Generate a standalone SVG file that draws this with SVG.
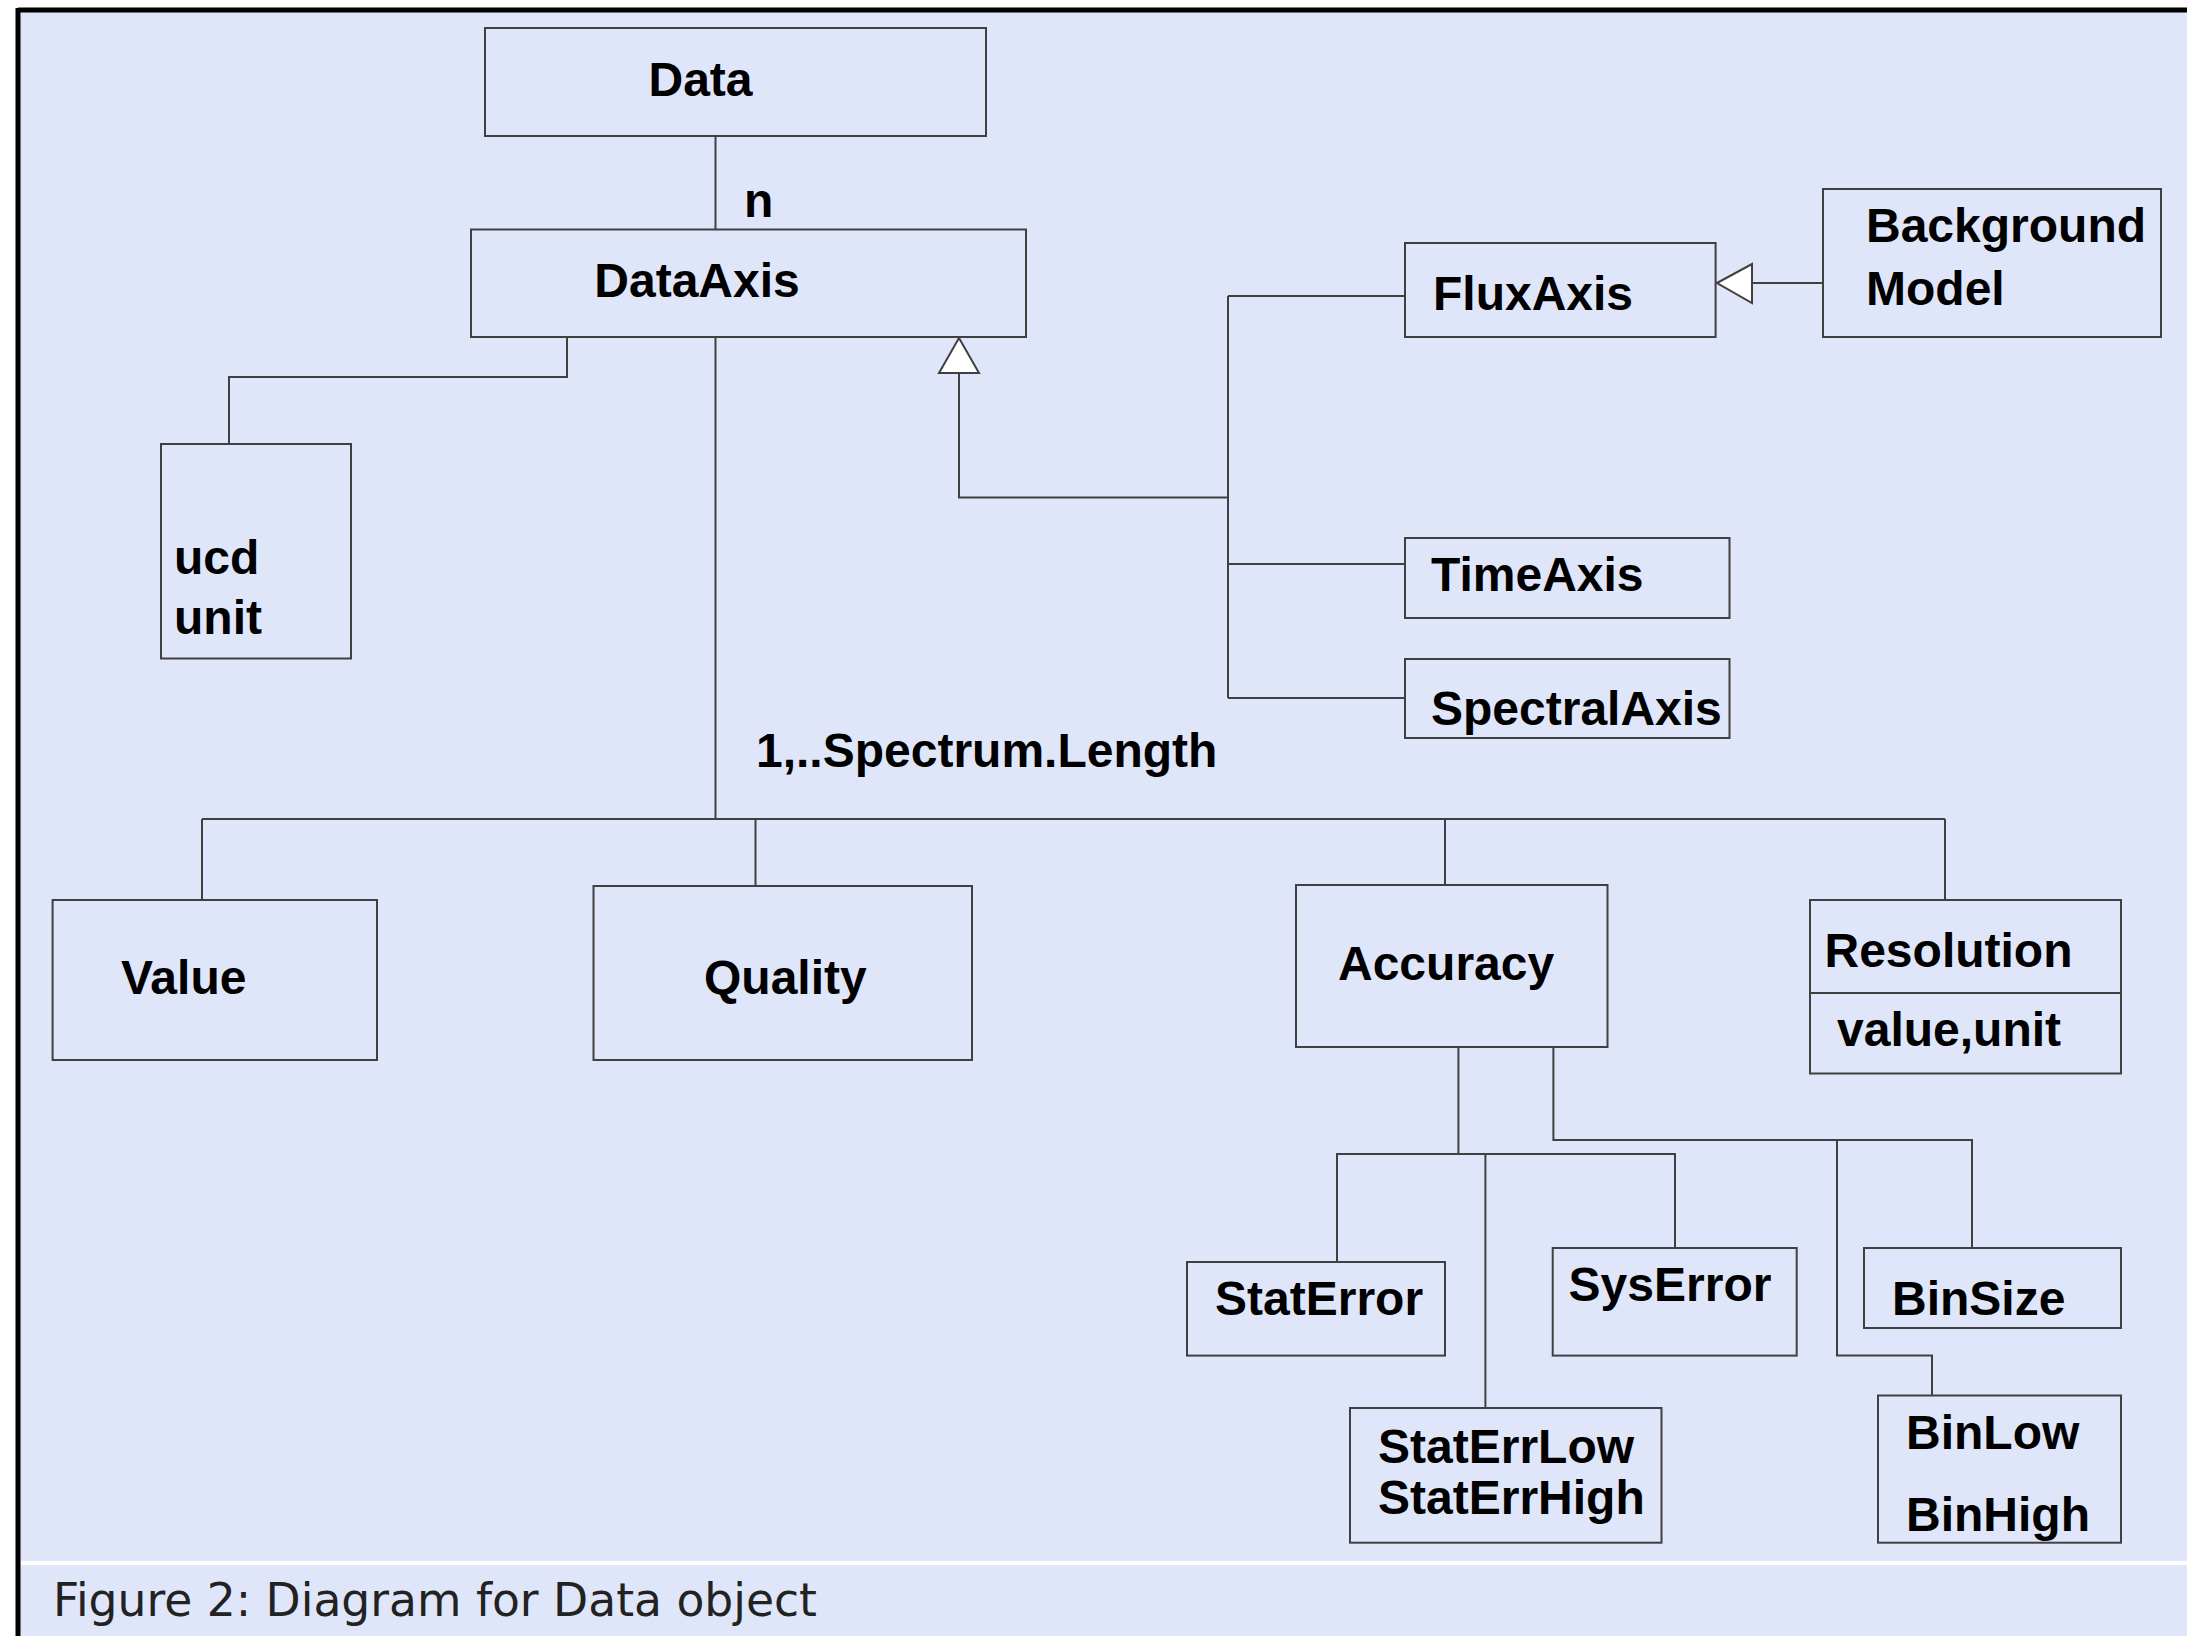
<svg xmlns="http://www.w3.org/2000/svg" width="2187" height="1636" viewBox="0 0 2187 1636">
<style>
.box{fill:none;stroke:#404040;stroke-width:2}
.ln{fill:none;stroke:#404040;stroke-width:2}
.t{font-family:"Liberation Sans",Arial,sans-serif;font-weight:bold;font-size:48px;fill:#000}
.cap{font-family:"DejaVu Sans","Liberation Sans",sans-serif;font-size:47px;fill:#222}
.tri{fill:#fff;stroke:#404040;stroke-width:2}
</style>
<rect x="0" y="0" width="2187" height="1636" fill="#fff"/>
<rect x="18" y="10" width="2169" height="1626" fill="#E0E6FA"/>
<line x1="18" y1="10" x2="2187" y2="10" stroke="#000" stroke-width="5"/>
<line x1="18" y1="8" x2="18" y2="1636" stroke="#000" stroke-width="5"/>
<line x1="21" y1="1563" x2="2187" y2="1563" stroke="#fff" stroke-width="4"/>
<text class="cap" x="53" y="1616" textLength="764" lengthAdjust="spacingAndGlyphs">Figure 2: Diagram for Data object</text>

<g id="connectors">
<line class="ln" x1="715.5" y1="136" x2="715.5" y2="229.5"/>
<polyline class="ln" points="567,337 567,377 229,377 229,444"/>
<line class="ln" x1="715.5" y1="337" x2="715.5" y2="819"/>
<polyline class="ln" points="959,373 959,497.5 1228,497.5"/>
<line class="ln" x1="1228" y1="296" x2="1228" y2="698"/>
<line class="ln" x1="1228" y1="296" x2="1405" y2="296"/>
<line class="ln" x1="1228" y1="564" x2="1405" y2="564"/>
<line class="ln" x1="1228" y1="698" x2="1405" y2="698"/>
<line class="ln" x1="1752" y1="283" x2="1823" y2="283"/>
<polygon class="tri" points="959,338 939,373 979,373"/>
<polygon class="tri" points="1717,283 1752,264 1752,303"/>
<line class="ln" x1="202" y1="819" x2="1945" y2="819"/>
<line class="ln" x1="202" y1="819" x2="202" y2="900"/>
<line class="ln" x1="755.5" y1="819" x2="755.5" y2="886"/>
<line class="ln" x1="1445" y1="819" x2="1445" y2="885"/>
<line class="ln" x1="1945" y1="819" x2="1945" y2="900"/>
<line class="ln" x1="1458.4" y1="1047" x2="1458.4" y2="1154"/>
<polyline class="ln" points="1337,1262 1337,1154 1675,1154 1675,1248"/>
<line class="ln" x1="1485.4" y1="1154" x2="1485.4" y2="1408"/>
<polyline class="ln" points="1553.4,1047 1553.4,1140 1972,1140 1972,1248"/>
<polyline class="ln" points="1837,1140 1837,1355.6 1932,1355.6 1932,1395.5"/>
<text class="t" x="744" y="216.5">n</text>
<text class="t" x="756" y="767">1,..Spectrum.Length</text>
</g>

<g id="data"><rect class="box" x="485" y="28" width="501" height="108"/><text class="t" x="700.5" y="96" text-anchor="middle">Data</text></g>
<g id="dataaxis"><rect class="box" x="471" y="229.5" width="555" height="107.5"/><text class="t" x="697" y="297" text-anchor="middle">DataAxis</text></g>
<g id="ucd"><rect class="box" x="161" y="444" width="190" height="214.5"/><text class="t" x="174" y="574">ucd</text><text class="t" x="174" y="634">unit</text></g>
<g id="fluxaxis"><rect class="box" x="1405" y="243" width="310.6" height="94"/><text class="t" x="1433" y="310">FluxAxis</text></g>
<g id="background"><rect class="box" x="1823" y="189" width="338" height="148"/><text class="t" x="1866" y="242">Background</text><text class="t" x="1866" y="304.6">Model</text></g>
<g id="timeaxis"><rect class="box" x="1405" y="538" width="324.5" height="80"/><text class="t" x="1431" y="591">TimeAxis</text></g>
<g id="spectralaxis"><rect class="box" x="1405" y="659" width="324.5" height="79"/><text class="t" x="1431" y="724.5">SpectralAxis</text></g>
<g id="value"><rect class="box" x="52.6" y="900" width="324.4" height="160"/><text class="t" x="121" y="994">Value</text></g>
<g id="quality"><rect class="box" x="593.5" y="886" width="378.5" height="174"/><text class="t" x="704" y="994">Quality</text></g>
<g id="accuracy"><rect class="box" x="1296" y="885" width="311.5" height="162"/><text class="t" x="1338" y="980">Accuracy</text></g>
<g id="resolution"><rect class="box" x="1810" y="900" width="311" height="173.5"/><line class="ln" x1="1810" y1="993" x2="2121" y2="993"/><text class="t" x="1824.5" y="967">Resolution</text><text class="t" x="1837" y="1046">value,unit</text></g>
<g id="staterror"><rect class="box" x="1187" y="1262" width="258" height="93.6"/><text class="t" x="1215" y="1314.5">StatError</text></g>
<g id="syserror"><rect class="box" x="1552.7" y="1248" width="244" height="107.6"/><text class="t" x="1568.6" y="1301">SysError</text></g>
<g id="binsize"><rect class="box" x="1864" y="1248" width="257" height="80"/><text class="t" x="1892" y="1314.5">BinSize</text></g>
<g id="staterrlow"><rect class="box" x="1350" y="1408" width="311.5" height="134.7"/><text class="t" x="1378" y="1462.7">StatErrLow</text><text class="t" x="1378" y="1514">StatErrHigh</text></g>
<g id="binlow"><rect class="box" x="1878" y="1395.5" width="243" height="147.2"/><text class="t" x="1906" y="1449.4">BinLow</text><text class="t" x="1906" y="1530.5">BinHigh</text></g>
</svg>
